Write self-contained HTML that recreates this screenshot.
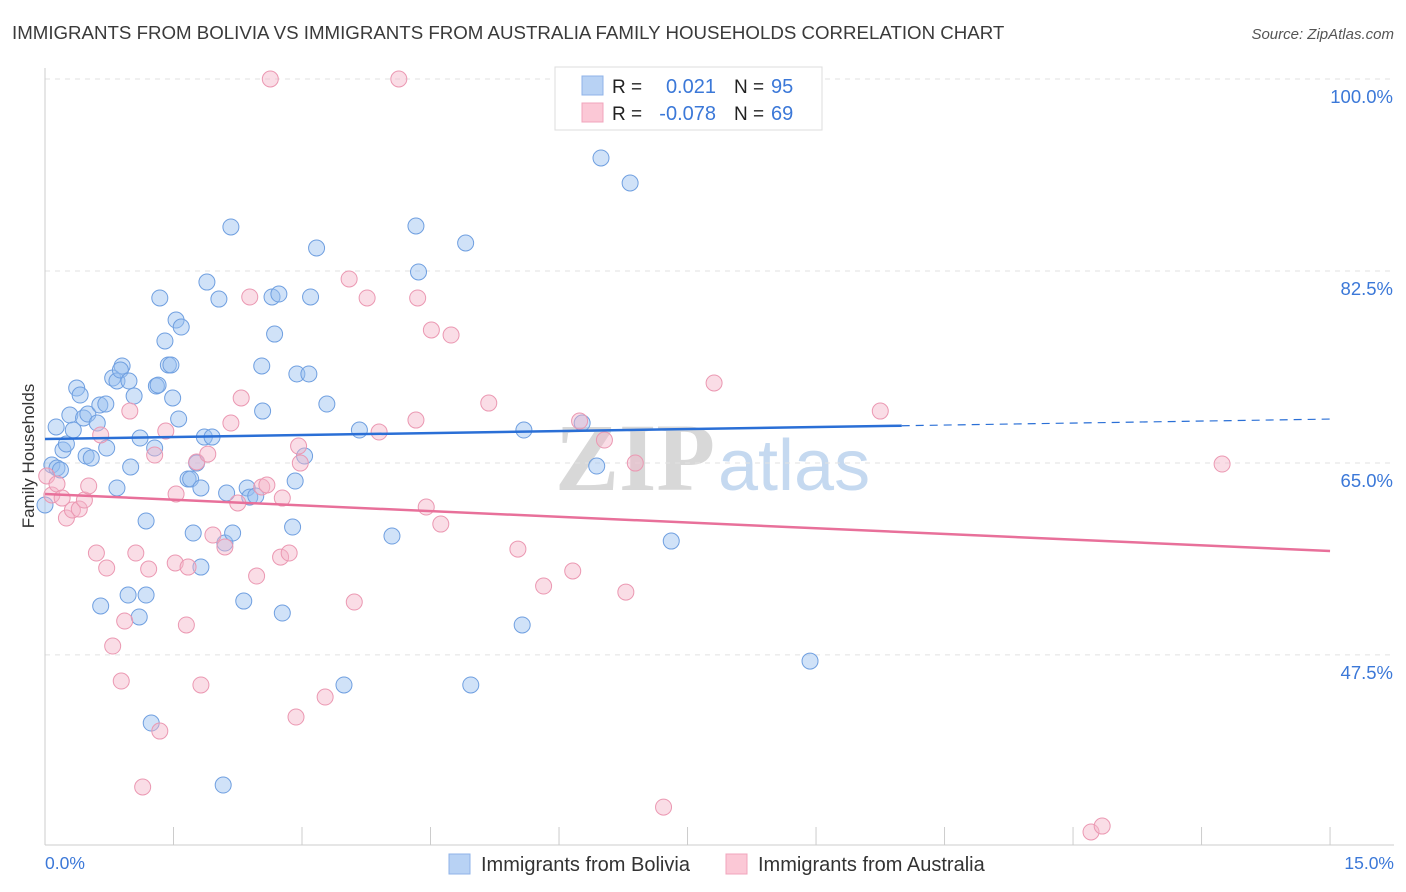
<!DOCTYPE html>
<html><head><meta charset="utf-8"><style>
body{margin:0;background:#fff;font-family:"Liberation Sans",sans-serif}
svg{display:block}
</style></head><body>
<svg id="c" width="1406" height="892" xmlns="http://www.w3.org/2000/svg">
<text x="12" y="39" font-size="18.7" fill="#3a3a3a">IMMIGRANTS FROM BOLIVIA VS IMMIGRANTS FROM AUSTRALIA FAMILY HOUSEHOLDS CORRELATION CHART</text>
<text x="1394" y="39" font-size="15" fill="#555" font-style="italic" text-anchor="end">Source: ZipAtlas.com</text>
<g><text x="555" y="490" font-size="96" fill="#d8d8d8" font-family="Liberation Serif,serif" font-weight="bold">ZIP</text><text x="718" y="490" font-size="72" fill="#c5d9f0">atlas</text></g>
<g id="grid"></g><g id="axes"></g><g id="pts"></g><g id="lines"></g>
<text transform="translate(34,456) rotate(-90)" font-size="17" fill="#333" text-anchor="middle">Family Households</text>
<text x="45" y="869" font-size="17.5" fill="#3b78d8">0.0%</text>
<text x="1394" y="869" font-size="17.5" fill="#3b78d8" text-anchor="end">15.0%</text>
<g>
<rect x="555" y="67" width="267" height="63" fill="#fff" stroke="#ddd"/>
<rect x="582" y="76" width="21" height="19" fill="#b8d2f4" stroke="#8fb3e8"/>
<rect x="582" y="103" width="21" height="19" fill="#fbc8d6" stroke="#f0a5bc"/>
<text x="612" y="93" font-size="19" fill="#222">R = </text><text x="716" y="93" font-size="20" fill="#3b78d8" text-anchor="end">0.021</text>
<text x="734" y="93" font-size="19" fill="#222">N = </text><text x="771" y="93" font-size="20" fill="#3b78d8">95</text>
<text x="612" y="120" font-size="19" fill="#222">R = </text><text x="716" y="120" font-size="20" fill="#3b78d8" text-anchor="end">-0.078</text>
<text x="734" y="120" font-size="19" fill="#222">N = </text><text x="771" y="120" font-size="20" fill="#3b78d8">69</text>
</g>
<g>
<rect x="449" y="854" width="21" height="20" fill="#b8d2f4" stroke="#8fb3e8"/>
<text x="481" y="871" font-size="20" fill="#333">Immigrants from Bolivia</text>
<rect x="726" y="854" width="21" height="20" fill="#fbc8d6" stroke="#f0a5bc"/>
<text x="758" y="871" font-size="20" fill="#333">Immigrants from Australia</text>
</g>
</svg>
<script>
const yTicks=[100,82.5,65,47.5];
const yTickLabels=["100.0%","82.5%","65.0%","47.5%"];
const xTicks=[0,1.5,3,4.5,6,7.5,9,10.5,12,13.5,15];
const blueX=[0,.08,.14,.18,.13,.21,.25,.29,.33,.37,.41,.45,.50,.48,.54,.61,.64,.71,.72,.79,.84,.90,.88,.98,1.00,.84,1.04,1.11,1.18,.65,.97,1.10,1.24,1.30,1.32,1.34,1.40,1.44,1.47,1.53,1.59,1.49,1.56,1.28,1.18,1.67,1.70,1.73,1.77,1.82,1.82,1.86,1.89,1.95,2.03,2.12,2.10,2.17,2.19,2.32,2.36,2.39,2.46,2.53,2.54,2.65,2.68,2.73,2.77,2.89,2.92,2.94,3.03,3.08,3.10,3.17,3.29,3.49,3.67,4.05,4.33,4.36,4.91,4.97,5.57,5.59,6.27,6.44,6.49,6.83,7.31,8.93,2.08];
const blueY=[61.17,64.81,64.54,64.36,68.28,66.18,66.73,69.37,68.00,71.83,71.19,69.10,69.46,65.63,65.45,68.64,70.28,70.37,66.36,72.74,72.47,73.84,73.47,72.47,64.63,62.72,71.10,67.27,52.96,51.96,52.96,50.96,41.29,72.01,72.10,80.04,76.12,73.93,73.93,78.03,77.39,70.92,69.01,66.36,59.71,63.54,63.54,58.61,64.99,62.72,55.51,67.36,81.49,67.36,79.94,62.26,57.70,86.51,58.61,52.41,62.72,61.89,61.99,73.84,69.73,80.13,76.75,80.40,51.32,59.16,63.35,73.11,65.63,73.11,80.13,84.59,70.37,44.76,68.00,58.34,86.60,82.41,85.05,44.76,50.23,68.00,68.64,64.72,92.80,90.52,57.88,46.94,35.64];
const pinkX=[2.63,4.13,.02,.08,.14,.20,.25,.32,.40,.46,.51,.60,.65,.72,.79,.89,.93,.99,1.06,1.14,1.21,1.28,1.34,1.41,1.53,1.52,1.65,1.67,1.77,1.82,1.90,1.96,2.10,2.17,2.29,2.25,2.39,2.47,2.53,2.59,2.77,2.75,2.85,2.93,2.96,2.98,3.27,3.55,3.61,3.76,3.90,4.33,4.35,4.45,4.51,4.62,4.74,5.18,5.52,5.82,6.16,6.24,6.53,6.78,6.89,7.22,7.81,9.75,12.21,12.34,13.74];
const pinkY=[100,100,63.81,62.08,63.08,61.80,59.98,60.71,60.80,61.62,62.90,56.79,67.55,55.42,48.31,45.12,50.59,69.73,56.79,35.46,55.33,65.72,40.56,67.91,62.17,55.88,50.23,55.51,65.09,44.76,65.81,58.43,57.34,68.64,70.92,61.35,80.13,54.69,62.81,62.99,61.80,56.42,56.79,41.84,66.54,64.99,43.66,81.77,52.32,80.04,67.82,68.91,80.04,60.98,77.12,59.43,76.66,70.46,57.15,53.78,55.15,68.82,67.09,53.23,64.99,33.63,72.29,69.73,31.36,31.90,64.90];
const blueTrend=[67.18,69.0];
const pinkTrend=[62.17,56.97];
const blueSolidEnd=10.0;
const NS="http://www.w3.org/2000/svg";
const sx=v=>45+v*85.67;
const sy=v=>79+(100-v)*10.97;
function mk(tag,attrs,parent){const e=document.createElementNS(NS,tag);for(const k in attrs)e.setAttribute(k,attrs[k]);document.getElementById(parent).appendChild(e);return e;}
yTicks.forEach((t,i)=>{
 const l=mk('line',{x1:45,x2:1394,y1:sy(t),y2:sy(t),stroke:'#e2e2e2','stroke-dasharray':'5,5'},'grid');
 
 
 const tx=mk('text',{x:1393,y:sy(t)+24,'font-size':18.5,fill:'#3b78d8','text-anchor':'end'},'grid');
 tx.textContent=yTickLabels[i];
 
 
});
const ax=mk('line',{x1:45,x2:45,y1:68,y2:845,stroke:'#ccc'},'axes');


const bx=mk('line',{x1:45,x2:1394,y1:845,y2:845,stroke:'#ccc'},'axes');


xTicks.forEach(t=>{
 const l=mk('line',{x1:sx(t),x2:sx(t),y1:827,y2:845,stroke:'#ccc'},'axes');
 
 
});
blueX.forEach((x,i)=>{
 const c=mk('circle',{cx:sx(x),cy:sy(blueY[i]),r:8,fill:'rgba(150,190,240,0.45)',stroke:'#6f9fe0','stroke-width':1},'pts');
 
 
});
pinkX.forEach((x,i)=>{
 const c=mk('circle',{cx:sx(x),cy:sy(pinkY[i]),r:8,fill:'rgba(245,180,200,0.45)',stroke:'#eb98b2','stroke-width':1},'pts');
 
 
});
const by=x=>blueTrend[0]+(blueTrend[1]-blueTrend[0])*x/15;
const b1=mk('line',{x1:sx(0),y1:sy(by(0)),x2:sx(blueSolidEnd),y2:sy(by(blueSolidEnd)),stroke:'#2a6fd6','stroke-width':2.5},'lines');


const b2=mk('line',{x1:sx(blueSolidEnd),y1:sy(by(blueSolidEnd)),x2:sx(15),y2:sy(by(15)),stroke:'#2a6fd6','stroke-width':1.2,'stroke-dasharray':'8,6'},'lines');


const p1=mk('line',{x1:sx(0),y1:sy(pinkTrend[0]),x2:sx(15),y2:sy(pinkTrend[1]),stroke:'#e8709a','stroke-width':2.5},'lines');


</script>
</body></html>
